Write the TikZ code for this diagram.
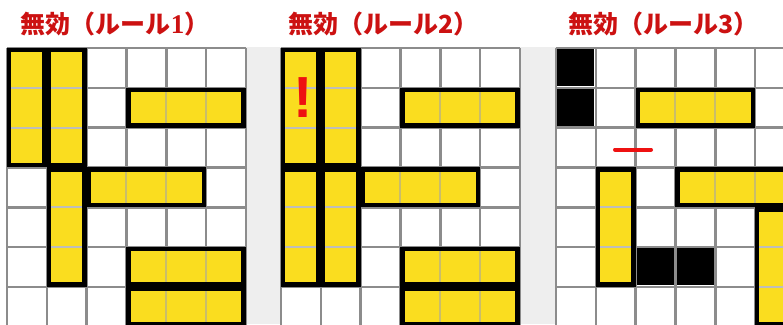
\documentclass[tikz,border=0pt]{standalone}
\usepackage{fontspec}
\newfontfamily\jp{Noto Sans CJK JP}
\newfontfamily\serifnum{Liberation Serif}[BoldFont={Liberation Serif Bold}]
\newfontfamily\exfont{Liberation Sans}
\definecolor{bggray}{HTML}{EEEEEE}
\definecolor{gridc}{HTML}{8C8C8C}
\definecolor{ylw}{HTML}{FADD1F}
\definecolor{vinc}{HTML}{C9BD6B}
\definecolor{hinc}{HTML}{BDBDBD}
\definecolor{titlered}{HTML}{CC1111}
\definecolor{alertred}{HTML}{EE1111}
\tikzset{
  gridl/.style={draw=gridc, line width=2.6pt},
  pborder/.style={draw=black, line width=4.4pt},
  vin/.style={draw=vinc, line width=2pt},
  hin/.style={draw=hinc, line width=2pt},
  ttl/.style={text=titlered, inner sep=0pt, font=\jp\bfseries\fontsize{25}{25}\selectfont},
  panel/.style={x=39.8pt, y=-39.8pt}
}
\newcommand\panelgrid[1]{%
  \fill[white] (0,0) rectangle (#1,7.5);
  \foreach \i in {0,...,#1} \draw[gridl] (\i,0) -- (\i,7.5);
  \foreach \j in {0,...,7} \draw[gridl] (0,\j) -- (#1,\j);
}
\newcommand\piece[4]{% col, row, width, height
  \fill[ylw] (#1,#2) rectangle ++(#3,#4);
  \pgfmathtruncatemacro\pw{#3}\pgfmathtruncatemacro\ph{#4}%
  \ifnum\pw>1 \foreach \k in {2,...,\pw} \draw[vin] (#1+\k-1,#2) -- ++(0,#4); \fi
  \ifnum\ph>1 \foreach \k in {2,...,\ph} \draw[hin] (#1,#2+\k-1) -- ++(#3,0); \fi
  \draw[pborder] ([xshift=2.2pt,yshift=-2.2pt]#1,#2) rectangle ([xshift=-2.2pt,yshift=2.2pt]#1+#3,#2+#4);
}
\newcommand\blk[2]{%
  \fill[black] ([xshift=1.4pt,yshift=-1.4pt]#1,#2) rectangle ([xshift=-1.4pt,yshift=1.4pt]#1+1,#2+1);
}
\begin{document}
\begin{tikzpicture}[x=1pt,y=-1pt]
\useasboundingbox (0,0) rectangle (783,324);
\clip (0,0) rectangle (783,324);
\fill[white] (0,0) rectangle (783,324);
\fill[bggray] (246,47) rectangle (783,324);
% titles
\node[ttl] (t1) at (115,23.5) {無効（ルール{\serifnum\bfseries\fontsize{27}{27}\selectfont 1}）};
\node[ttl] (t2) at (383.5,23.5) {無効（ルール2）};
\node[ttl] (t3) at (663.5,23.5) {無効（ルール3）};
% panel 1
\begin{scope}[shift={(7,48)}, panel]
  \panelgrid{6}
  \piece{0}{0}{1}{3}
  \piece{1}{0}{1}{3}
  \piece{3}{1}{3}{1}
  \piece{1}{3}{1}{3}
  \piece{2}{3}{3}{1}
  \piece{3}{5}{3}{1}
  \piece{3}{6}{3}{1}
\end{scope}
% panel 2
\begin{scope}[shift={(281,48)}, panel]
  \panelgrid{6}
  \piece{0}{0}{1}{3}
  \piece{1}{0}{1}{3}
  \piece{0}{3}{1}{3}
  \piece{1}{3}{1}{3}
  \piece{3}{1}{3}{1}
  \piece{2}{3}{3}{1}
  \piece{3}{5}{3}{1}
  \piece{3}{6}{3}{1}
\end{scope}
\node[text=alertred, inner sep=0pt, font=\exfont\bfseries\fontsize{58}{58}\selectfont] (ex) at (303,98) {!};
% panel 3
\begin{scope}[shift={(556,48)}, panel]
  \panelgrid{7}
  \blk{0}{0}
  \blk{0}{1}
  \blk{2}{5}
  \blk{3}{5}
  \piece{2}{1}{3}{1}
  \piece{1}{3}{1}{3}
  \piece{3}{3}{3}{1}
  \piece{5}{4}{1}{3}
\end{scope}
\coordinate (d1) at (615,149.5);
\coordinate (d2) at (651,149.5);
\draw[alertred, line width=4pt, line cap=round] (d1) -- (d2);
\end{tikzpicture}
\end{document}
